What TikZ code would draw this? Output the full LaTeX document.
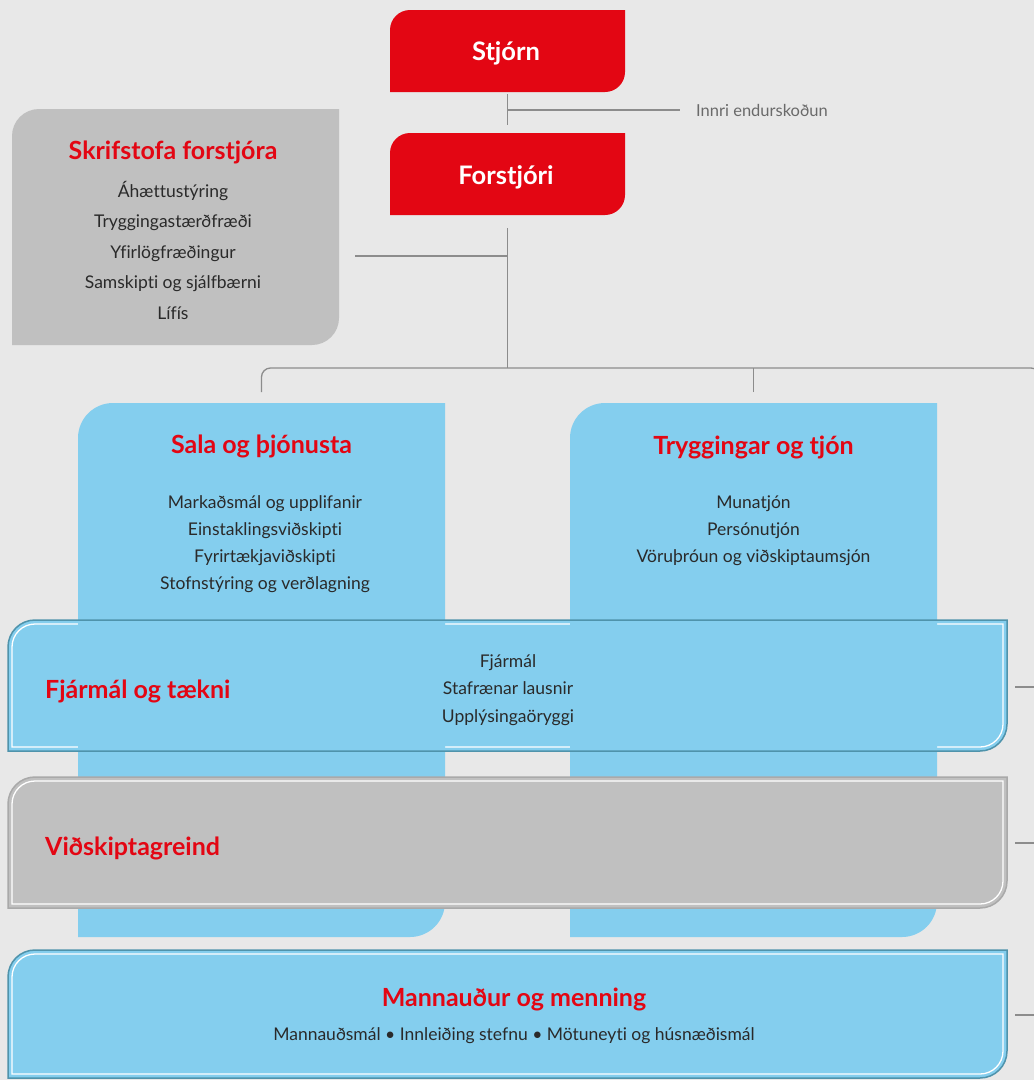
\documentclass[tikz,border=0pt]{standalone}
\usepackage{fontspec}
\setmainfont[Ligatures={TeX,NoCommon}]{Lato}
\usetikzlibrary{calc}
\definecolor{bg}{HTML}{E8E8E8}
\definecolor{vred}{HTML}{E30613}
\definecolor{vblue}{HTML}{84CEEE}
\definecolor{vgray}{HTML}{C0C0C0}
\definecolor{lin}{HTML}{8C8C8C}
\definecolor{txt}{HTML}{2A2A2A}
\definecolor{tealline}{HTML}{4F93AB}
\definecolor{gline}{HTML}{A9A9A9}
\definecolor{softtxt}{HTML}{6A6A6A}
% box with rounded top-left and bottom-right corners
\newcommand\tlbr[6]{\path[#1] (#2,#5) -- (#2,{#3+#6}) .. controls (#2,{#3+0.448*#6}) and ({#2+0.448*#6},#3) .. ({#2+#6},#3) -- (#4,#3) -- (#4,{#5-#6}) .. controls (#4,{#5-0.448*#6}) and ({#4-0.448*#6},#5) .. ({#4-#6},#5) -- cycle;}
\tikzset{
  frame/.style={inner sep=0pt, outer sep=0pt},
  conn/.style={draw=lin, line width=1.3pt},
  redtitle/.style={font=\bfseries\fontsize{25}{30}\selectfont, text=vred, inner sep=0pt},
  whitetitle/.style={font=\bfseries\fontsize{25.5}{30}\selectfont, text=white, inner sep=0pt},
  items/.style={font=\fontsize{17.5}{27}\selectfont, text=txt, align=center, inner sep=0pt},
}
\begin{document}
\begin{tikzpicture}[x=1pt,y=-1pt]
\useasboundingbox (0,0) rectangle (1034,1080);
\clip (0,0) rectangle (1034,1080);
\fill[bg] (0,0) rectangle (1034,1080);

% ---- frames (named nodes) ----
\node[frame, minimum width=235pt, minimum height=82pt] (stjorn) at (507.5,51) {};
\node[frame, minimum width=235pt, minimum height=82pt] (forstjori) at (507.5,174) {};
\node[frame, minimum width=327pt, minimum height=236pt] (skrif) at (175.5,227) {};
\node[frame, minimum width=367pt, minimum height=534pt] (sala) at (261.5,670) {};
\node[frame, minimum width=367pt, minimum height=534pt] (tryg) at (753.5,670) {};
\node[frame, minimum width=999pt, minimum height=131pt] (fin) at (507.5,685.5) {};
\node[frame, minimum width=999pt, minimum height=131pt] (vid) at (507.5,842.5) {};
\node[frame, minimum width=999pt, minimum height=128pt] (mann) at (507.5,1014) {};

% ---- shapes ----
\tlbr{fill=vred}{390}{10}{625}{92}{20}
\tlbr{fill=vred}{390}{133}{625}{215}{20}
\tlbr{fill=vgray}{12}{109}{339}{345}{27}

\tlbr{fill=vblue}{8}{620}{1007}{751}{27}
\tlbr{draw=white, line width=1.3pt}{12}{624}{1003}{747}{23}
\tlbr{fill=vblue}{78}{403}{445}{937}{35}
\tlbr{fill=vblue}{570}{403}{937}{937}{35}
\tlbr{draw=tealline, line width=1.5pt}{8}{620}{1007}{751}{27}

\tlbr{fill=vgray}{8}{777}{1007}{908}{27}
\tlbr{draw=white, line width=1.3pt}{12}{781}{1003}{904}{23}
\tlbr{draw=gline, line width=1.5pt}{8}{777}{1007}{908}{27}

\tlbr{fill=vblue}{8}{950}{1007}{1078}{27}
\tlbr{draw=white, line width=1.3pt}{12}{954}{1003}{1074}{23}
\tlbr{draw=tealline, line width=1.5pt}{8}{950}{1007}{1078}{27}

% ---- texts ----
\node[whitetitle] (tstjorn) at (506,53) {Stjórn};
\node[whitetitle] (tforstjori) at (506,177.5) {Forstjóri};
\node[anchor=west, inner sep=0pt, font=\fontsize{16.5}{20}\selectfont, text=softtxt] (innri) at (696,110) {Innri endurskoðun};

\node[redtitle] (tskrif) at (173,152.5) {Skrifstofa forstjóra};
\node[items, font=\fontsize{17.5}{30.5}\selectfont] (iskrif) at (173,250) {Áhættustýring\\Tryggingastærðfræði\\Yfirlögfræðingur\\Samskipti og sjálfbærni\\Lífís};

\node[redtitle] (tsala) at (261.5,446) {Sala og þjónusta};
\node[items] (isala) at (265,544) {Markaðsmál og upplifanir\\Einstaklingsviðskipti\\Fyrirtækjaviðskipti\\Stofnstýring og verðlagning};

\node[redtitle] (ttryg) at (753.5,447) {Tryggingar og tjón};
\node[items] (itryg) at (753.5,531) {Munatjón\\Persónutjón\\Vöruþróun og viðskiptaumsjón};

\node[redtitle, anchor=west] (tfin) at (45,691.5) {Fjármál og tækni};
\node[items, font=\fontsize{17.5}{27.5}\selectfont] (ifin) at (508,690) {Fjármál\\Stafrænar lausnir\\Upplýsingaöryggi};

\node[redtitle, anchor=west] (tvid) at (45,848.5) {Viðskiptagreind};

\node[redtitle] (tmann) at (514,999) {Mannauður og menning};
\node[items] (imann) at (514,1035.5) {Mannauðsmál • Innleiðing stefnu • Mötuneyti og húsnæðismál};

% ---- connectors ----
\coordinate (jstj) at (stjorn.south |- innri.west);
\coordinate (hub) at (507.5,368);
\coordinate (jskrif) at (507.5,256);
\coordinate (rightdrop) at (1040,420);
\draw[conn] ([yshift=-2pt]stjorn.south) -- ([yshift=8pt]forstjori.north);
\draw[conn] (jstj) -- ([xshift=-16pt]innri.west);
\draw[conn] ([yshift=-13pt]forstjori.south) -- (hub);
\draw[conn] ($(skrif.east |- jskrif)+(16,0)$) -- (jskrif);
\draw[conn, rounded corners=9pt] ($(sala.north)+(0,-11)$) |- (hub) -| (rightdrop);
\draw[conn] ($(tryg.north)+(0,-11)$) -- (tryg.north |- hub);
\coordinate (efin) at (1040,687);
\coordinate (evid) at (1040,843);
\coordinate (emann) at (1040,1015);
\draw[conn] ($(fin.east |- efin)+(8,0)$) -- (efin);
\draw[conn] ($(vid.east |- evid)+(8,0)$) -- (evid);
\draw[conn] ($(mann.east |- emann)+(8,0)$) -- (emann);
\end{tikzpicture}
\end{document}
